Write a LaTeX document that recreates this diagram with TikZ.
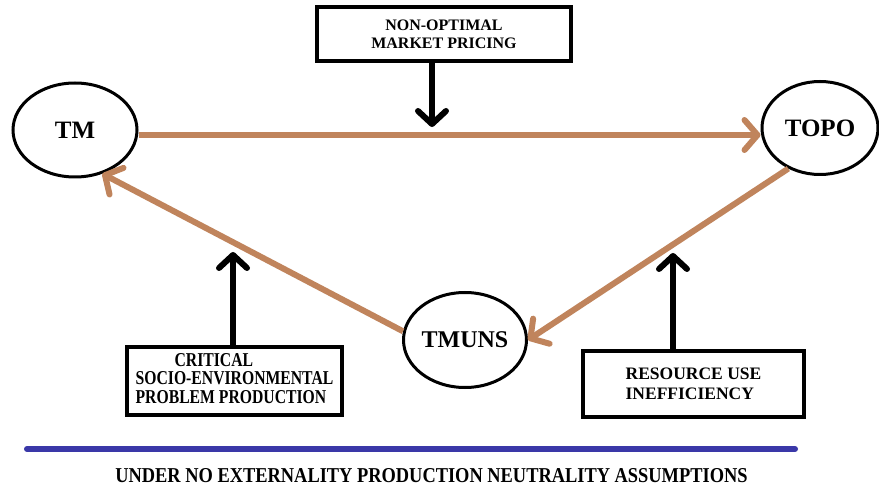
\documentclass[tikz,border=0pt]{standalone}
\usepackage{fontspec}
\setmainfont{Liberation Serif}
\usepackage{tikz}
\usepackage{xcolor}
\usetikzlibrary{arrows.meta,shapes.geometric}
\definecolor{flowbrown}{RGB}{192,132,92}
\definecolor{rulerblue}{RGB}{58,56,168}
\newcommand{\tallrows}[2]{\scalebox{1}[#1]{\begin{tabular}{@{}l@{}}#2\end{tabular}}}
\tikzset{
    state-oval/.style = {draw=black, line width=3pt, ellipse, inner sep=0pt, font=\fontsize{25}{28}\selectfont\bfseries},
    cause-box/.style = {draw=black, line width=3.5pt, rectangle, inner sep=0pt, font=\fontsize{16}{18}\selectfont\bfseries},
    flow-arrow/.style = {draw=flowbrown, line width=6pt, -{Straight Barb[round, length=13pt, width=30pt]}},
    push-arrow/.style = {draw=black, line width=6pt, -{Straight Barb[round, length=13pt, width=28pt]}},
}

\begin{document}
\begin{tikzpicture}[x=1pt, y=-1pt]
\useasboundingbox (0,0) rectangle (879,489);
\fill[white] (0,0) rectangle (879,489);

% the three states
\node [state-oval, minimum width=124pt, minimum height=94pt] (tm) at (75,130) {TM};
\node [state-oval, minimum width=116pt, minimum height=93pt] (topo) at (820,128) {TOPO};
\node [state-oval, minimum width=123pt, minimum height=95pt, font=\fontsize{24}{26}\selectfont\bfseries] (tmuns) at (465,340) {TMUNS};

% the three causes
\node [cause-box, minimum width=254pt, minimum height=54pt, align=center] (pricing) at (444,34) {NON-OPTIMAL\\MARKET PRICING};
\node [cause-box, minimum width=215pt, minimum height=68pt, font=\fontsize{15.7}{14.8}\selectfont\bfseries] (critical) at (234.5,381)
    {\tallrows{1.25}{\hspace*{39pt}CRITICAL\\SOCIO-ENVIRONMENTAL\\PROBLEM PRODUCTION}};
\node [cause-box, minimum width=221pt, minimum height=66pt, align=left, font=\fontsize{17.5}{20}\selectfont\bfseries] (ineff) at (693.5,384) {RESOURCE USE\\INEFFICIENCY};

\coordinate (pricing-hit) at (432,127);
\coordinate (critical-hit) at (233,252);
\coordinate (ineff-hit) at (673,253);

% cycle
\draw [flow-arrow] ([yshift=-5pt]tm.east) -- ([yshift=-7pt]topo.west);
\draw [flow-arrow] (topo.-128) -- (tmuns.east);
\draw [flow-arrow] (tmuns.172) -- (tm.-58);

% causes pushing on the cycle
\draw [push-arrow] (pricing.south -| pricing-hit) -- (pricing-hit);
\draw [push-arrow] (critical.north -| critical-hit) -- (critical-hit);
\draw [push-arrow] (ineff.north -| ineff-hit) -- (ineff-hit);

% footer
\draw [rulerblue, line width=6pt, line cap=round] (27,449) -- (795,449);
\node [font=\fontsize{18.4}{20}\selectfont\bfseries, inner sep=0pt] (footer) at (431.5,476)
    {\scalebox{1}[1.15]{UNDER NO EXTERNALITY PRODUCTION NEUTRALITY ASSUMPTIONS}};
\end{tikzpicture}
\end{document}
